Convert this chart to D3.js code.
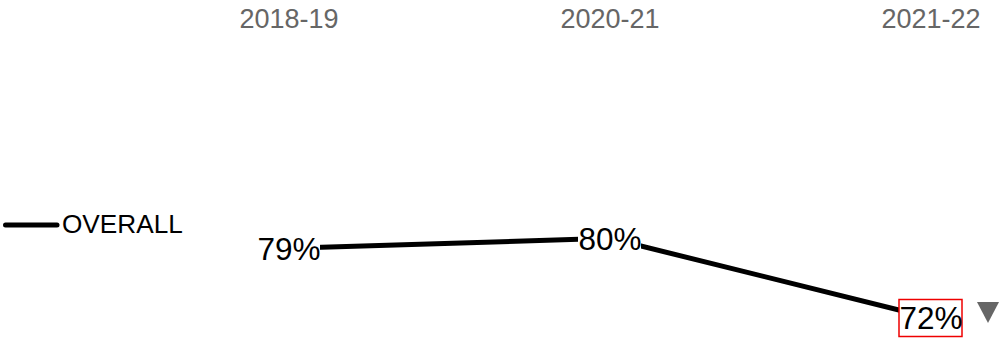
<!DOCTYPE html>
<html>
<head>
<meta charset="utf-8">
<script src="https://cdn.jsdelivr.net/npm/d3@7/dist/d3.min.js"></script>
<style>
  html, body { margin: 0; padding: 0; background: #fff; }
  svg { display: block; font-family: "Liberation Sans", Arial, Helvetica, sans-serif; }
</style>
</head>
<body>
<script>
const categories = ["2018-19", "2020-21", "2021-22"];
const values = [79, 80, 72];
const labels = ["79%", "80%", "72%"];
const seriesName = "OVERALL";
const highlightIndex = 2;

const W = 1000, H = 338;
const svg = d3.select("body").append("svg").attr("width", W).attr("height", H);

const x = d3.scalePoint().domain(categories).range([289, 931]);
const y = d3.scaleLinear().domain([72, 80]).range([318, 238.3]);

// header labels
svg.selectAll("text.hdr").data(categories).enter().append("text")
  .attr("class", "hdr")
  .attr("x", d => x(d)).attr("y", 28)
  .attr("text-anchor", "middle")
  .attr("font-size", 27)
  .attr("fill", "#666")
  .text(d => d);

// legend
svg.append("line").attr("x1", 5.5).attr("x2", 57).attr("y1", 225).attr("y2", 225)
  .attr("stroke", "#000").attr("stroke-width", 5).attr("stroke-linecap", "round");
svg.append("text").attr("x", 62).attr("y", 233).attr("font-size", 26.2).attr("fill", "#000")
  .text(seriesName);

// line
const pts = categories.map((c, i) => ({ c, v: values[i], l: labels[i] }));
svg.append("path").datum(pts)
  .attr("d", d3.line().x(d => x(d.c)).y(d => y(d.v)))
  .attr("fill", "none").attr("stroke", "#000").attr("stroke-width", 5);

// labels with white background boxes
const g = svg.selectAll("g.lbl").data(pts).enter().append("g").attr("class", "lbl")
  .attr("transform", d => `translate(${x(d.c)},${y(d.v)})`);
g.append("rect")
  .attr("x", -32).attr("y", -18.5).attr("width", 63).attr("height", 37)
  .attr("fill", "#fff")
  .attr("stroke", (d, i) => i === highlightIndex ? "#e00" : "none")
  .attr("stroke-width", 1.5);
g.append("text")
  .attr("text-anchor", "middle").attr("dy", "0.36em")
  .attr("font-size", 31.5).attr("fill", "#000")
  .text(d => d.l);

// down arrow indicator
const last = pts[pts.length - 1];
const tx = x(last.c) + 57, ty = y(last.v) - 5;
svg.append("path")
  .attr("d", `M${tx - 11},${ty - 11} L${tx + 11},${ty - 11} L${tx},${ty + 10} Z`)
  .attr("fill", "#666");
</script>
</body>
</html>
